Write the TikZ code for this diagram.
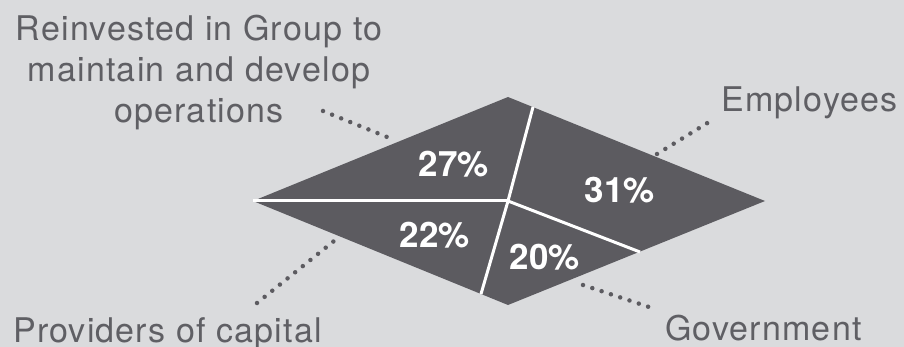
\documentclass[tikz,border=0pt]{standalone}
\usepackage{fontspec}
\newfontfamily\labelfont{TeX Gyre Heros}[LetterSpace=3.5]
\newfontfamily\pctfont{TeX Gyre Heros}
\definecolor{bgcol}{RGB}{218,219,221}
\definecolor{darkfill}{RGB}{92,91,96}
\definecolor{txtgray}{RGB}{95,95,100}
\begin{document}
\begin{tikzpicture}[x=1pt,y=-1pt,
  lbl/.style={text=txtgray, font=\labelfont\fontsize{34}{41}\selectfont, inner sep=0pt},
  pct/.style={text=white, font=\pctfont\bfseries\fontsize{35}{35}\selectfont, inner sep=0pt},
  divider/.style={draw=white, line width=3pt},
  leader/.style={draw=darkfill, line width=4.5pt, line cap=round, dash pattern=on 0pt off 9.8pt}]
\fill[bgcol] (0,0) rectangle (904,347);
\useasboundingbox (0,0) rectangle (904,347);
% diamond
\coordinate (L) at (253,201);
\coordinate (T) at (508,97);
\coordinate (R) at (765,201);
\coordinate (B) at (508,305);
\coordinate (C) at (508,201);
\fill[darkfill] (L) -- (T) -- (R) -- (B) -- cycle;
% dividers
\coordinate (du) at (533,107);
\coordinate (dd) at (481,294);
\coordinate (dr) at (640,252);
\draw[divider] (L) -- (C);
\draw[divider] (C) -- (du);
\draw[divider] (C) -- (dd);
\draw[divider] (C) -- (dr);
% percentages
\node[pct] (p27) at (454,164) {27\%};
\node[pct] (p31) at (620,190) {31\%};
\node[pct] (p22) at (435,235) {22\%};
\node[pct] (p20) at (545,257) {20\%};
% labels
\node[lbl, align=center] (reinv) at (199,73) {Reinvested in Group to\\maintain and develop\\operations};
\node[lbl, anchor=base west] (emp) at (721,112) {Employees};
\node[lbl, anchor=base west] (prov) at (13,342) {Providers of capital};
\node[lbl, anchor=base west] (gov) at (665,340) {Government};
% leaders
\coordinate (r1) at (323,111);
\coordinate (r2) at (392,139);
\coordinate (e1) at (657,154);
\coordinate (e2) at (709,122);
\coordinate (v1) at (257,303);
\coordinate (v2) at (334,241);
\coordinate (g1) at (583,285);
\coordinate (g2) at (652,308);
\draw[leader] (r1) -- (r2);
\draw[leader] (e1) -- (e2);
\draw[leader] (v1) -- (v2);
\draw[leader] (g1) -- (g2);
\end{tikzpicture}
\end{document}
